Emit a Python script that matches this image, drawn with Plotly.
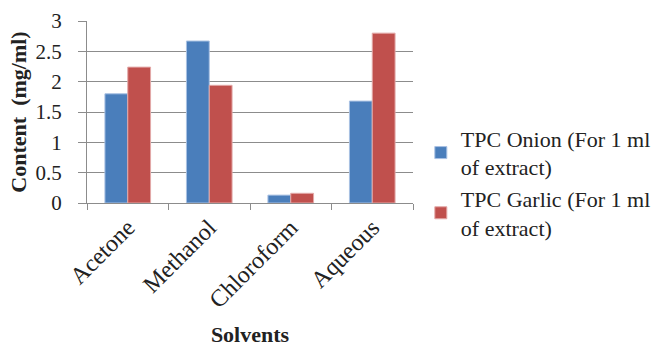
import plotly.graph_objects as go

categories = ["Acetone", "Methanol", "Chloroform", "Aqueous"]
onion = [1.80, 2.67, 0.13, 1.68]
garlic = [2.24, 1.94, 0.16, 2.80]
series_names = ["TPC Onion (For 1 ml<br>of extract)", "TPC Garlic (For 1 ml<br>of extract)"]
y_ticks = [0, 0.5, 1, 1.5, 2, 2.5, 3]
y_tick_labels = ["0", "0.5", "1", "1.5", "2", "2.5", "3"]

font = "Times New Roman, Liberation Serif, serif"

fig = go.Figure()
fig.add_trace(go.Bar(x=categories, y=onion, name=series_names[0],
                     marker=dict(color="#4a7ebb", line=dict(color="#a9c1e3", width=1))))
fig.add_trace(go.Bar(x=categories, y=garlic, name=series_names[1],
                     marker=dict(color="#c0504d", line=dict(color="#e3a9a8", width=1))))

fig.update_layout(
    width=663, height=347,
    margin=dict(l=87, r=250, t=21, b=144, autoexpand=False),
    paper_bgcolor="white", plot_bgcolor="white",
    barmode="group", bargap=0.44, bargroupgap=0,
    font=dict(family=font, size=21, color="#222"),
    legend=dict(x=1.024, y=0.11, xanchor="left", yanchor="middle",
                font=dict(family=font, size=22, color="#222"),
                tracegroupgap=2, itemwidth=30),
    showlegend=True,
)
fig.update_xaxes(
    showline=True, linecolor="#8c8c8c", linewidth=1,
    ticks="outside", tickson="boundaries", ticklen=6, tickcolor="#8c8c8c",
    tickangle=-45, tickfont=dict(family=font, size=24, color="#222"),
    title=dict(text="<b>Solvents</b>", font=dict(family=font, size=22, color="#222"), standoff=20),
)
fig.update_yaxes(
    range=[0, 3], tickvals=y_ticks, ticktext=y_tick_labels,
    showline=True, linecolor="#8c8c8c", linewidth=1,
    showgrid=True, gridcolor="#8c8c8c", gridwidth=1,
    ticks="outside", ticklen=8, tickcolor="#8c8c8c",
    ticklabelstandoff=12,
    tickfont=dict(family=font, size=21, color="#222"),
    title=dict(text="<b>Content  (mg/ml)</b>", font=dict(family=font, size=22, color="#222"), standoff=2),
    zeroline=False,
)

fig.write_html("out.html")
